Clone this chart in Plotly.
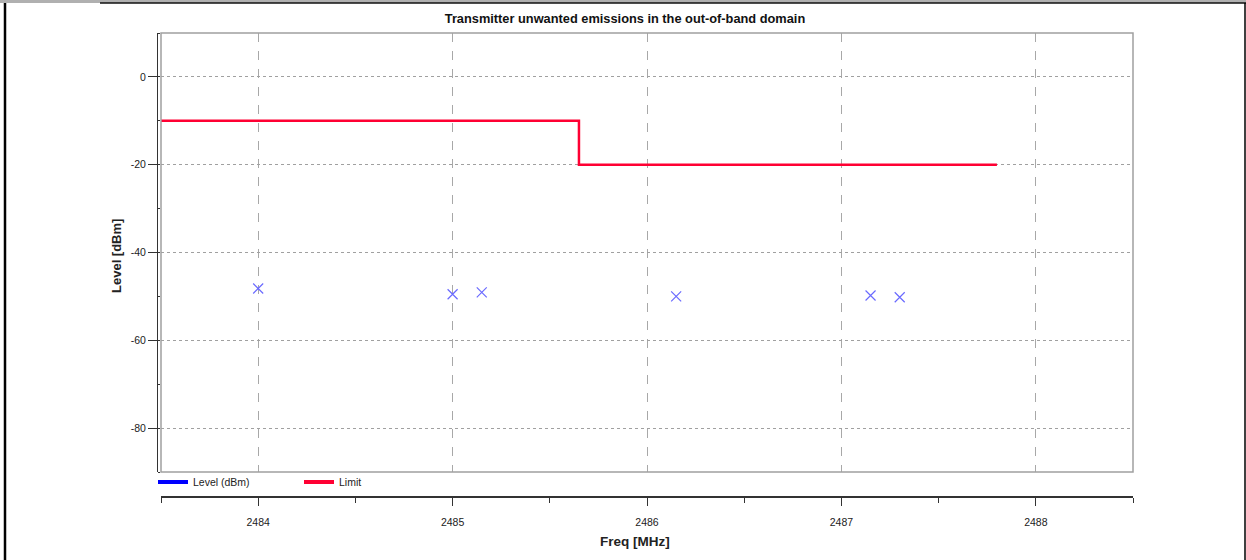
import plotly.graph_objects as go

# ---- data ----
level_freq = [2484.0, 2485.0, 2485.15, 2486.15, 2487.15, 2487.3]
level_dbm = [-48.2, -49.5, -49.1, -50.0, -49.8, -50.2]
limit_freq = [2483.5, 2485.65, 2485.65, 2487.8]
limit_dbm = [-10, -10, -20, -20]
x_ticks = [2484, 2485, 2486, 2487, 2488]
y_ticks = [0, -20, -40, -60, -80]
y_tick_text = ["0", "-20", "-40", "-60", "-80"]

NARROW = "Liberation Sans Narrow, Arial Narrow, Liberation Sans, Arial, sans-serif"

fig = go.Figure()
fig.add_trace(go.Scatter(x=limit_freq, y=limit_dbm, mode="lines",
                         line=dict(color="#ff0033", width=2.5), showlegend=False))
fig.add_trace(go.Scatter(x=level_freq, y=level_dbm, mode="markers",
                         marker=dict(symbol="x-thin", size=10, line=dict(color="#6a6aff", width=1.2)),
                         showlegend=False))
# legend entries
fig.add_trace(go.Scatter(x=[None], y=[None], mode="lines", name="Level (dBm)",
                         line=dict(color="#0000ff", width=4)))
fig.add_trace(go.Scatter(x=[None], y=[None], mode="lines", name="Limit",
                         line=dict(color="#ff0033", width=4)))

W, H = 1246, 560
ml, mr, mt, mb = 157, 113, 33, 63
pw = W - ml - mr
ph = H - mt - mb
xdom0 = 4 / pw
ydom0 = (497 - 472) / ph

fig.update_layout(
    width=W, height=H,
    margin=dict(l=ml, r=mr, t=mt, b=mb),
    paper_bgcolor="white", plot_bgcolor="white",
    font=dict(family=NARROW, size=11, color="#222"),
    title=dict(text="<b>Transmitter unwanted emissions in the out-of-band domain</b>",
               x=625 / W, xref="container",
               xanchor="center", y=1 - 19 / H, yanchor="middle",
               font=dict(family=NARROW, size=12.8, color="#111")),
    xaxis=dict(domain=[xdom0, 1], range=[2483.5, 2488.5], tickvals=x_ticks,
               anchor="free", position=0,
               showline=True, linecolor="#333", linewidth=1.5,
               ticks="outside", ticklen=8, tickcolor="#333", tickwidth=1,
               minor=dict(dtick=0.5, tick0=2483.5, ticks="outside", ticklen=5, tickcolor="#333",
                          showgrid=False),
               showgrid=True, gridcolor="#a8a8a8", griddash="dash", gridwidth=1,
               zeroline=False, ticklabelstandoff=8,
               tickfont=dict(family=NARROW, size=10.5, color="#222")),
    yaxis=dict(domain=[ydom0, 1], range=[-90, 10], tickvals=y_ticks, ticktext=y_tick_text,
               anchor="free", position=0,
               showline=True, linecolor="#333", linewidth=1,
               ticks="outside", ticklen=9, tickcolor="#333",
               minor=dict(dtick=10, tick0=0, ticks="inside", ticklen=2, tickcolor="#333",
                          showgrid=False),
               showgrid=True, gridcolor="#a0a0a0", griddash="dot", gridwidth=1,
               zeroline=False,
               tickfont=dict(family=NARROW, size=10.5, color="#222")),
    legend=dict(orientation="h", x=(153 - ml) / pw, xanchor="left",
                y=(497 - 482) / ph, yanchor="middle",
                bgcolor="rgba(0,0,0,0)", itemwidth=30,
                entrywidth=101, entrywidthmode="pixels",
                font=dict(family=NARROW, size=10.5, color="#222"),
                tracegroupgap=0),
    showlegend=True,
)

# axis titles as annotations (positioned like the reference)
fig.add_annotation(text="<b>Freq [MHz]</b>", xref="paper", yref="paper",
                   x=(635 - ml) / pw, y=-(541 - 497) / ph, xanchor="center", yanchor="middle",
                   showarrow=False, font=dict(family=NARROW, size=13.5, color="#222"))
fig.add_annotation(text="<b>Level [dBm]</b>", xref="paper", yref="paper",
                   x=-(ml - 116) / pw, y=(497 - 256) / ph, xanchor="center", yanchor="middle",
                   textangle=-90, showarrow=False,
                   font=dict(family="Liberation Sans, Arial, sans-serif", size=13, color="#222"))

# plot area border
fig.add_shape(type="rect", xref="x domain", yref="y domain", x0=0, x1=1, y0=0, y1=1,
              line=dict(color="#a0a0a0", width=1.5), layer="above")
# page frame
fig.add_shape(type="rect", xref="paper", yref="paper", x0=-ml / pw, x1=1 + mr / pw,
              y0=1 + mt / ph - 3 / ph, y1=1 + mt / ph, line=dict(width=0), fillcolor="#b0b0b0")
fig.add_shape(type="line", xref="paper", yref="paper", x0=-ml / pw + 100 / pw, x1=1 + mr / pw,
              y0=1 + mt / ph - 3 / ph, y1=1 + mt / ph - 3 / ph, line=dict(color="#111", width=1.5))
fig.add_shape(type="line", xref="paper", yref="paper", x0=-ml / pw + 5 / pw, x1=-ml / pw + 5 / pw,
              y0=-mb / ph, y1=1 + mt / ph - 3 / ph, line=dict(color="#000", width=2.5))
fig.add_shape(type="line", xref="paper", yref="paper", x0=1 + mr / pw - 1 / pw, x1=1 + mr / pw - 1 / pw,
              y0=-mb / ph, y1=1 + mt / ph - 3 / ph, line=dict(color="#000", width=1.5))

fig.write_html("out.html", config={"displayModeBar": False},
               post_script="document.body.style.margin='0';document.body.style.overflow='hidden';")
